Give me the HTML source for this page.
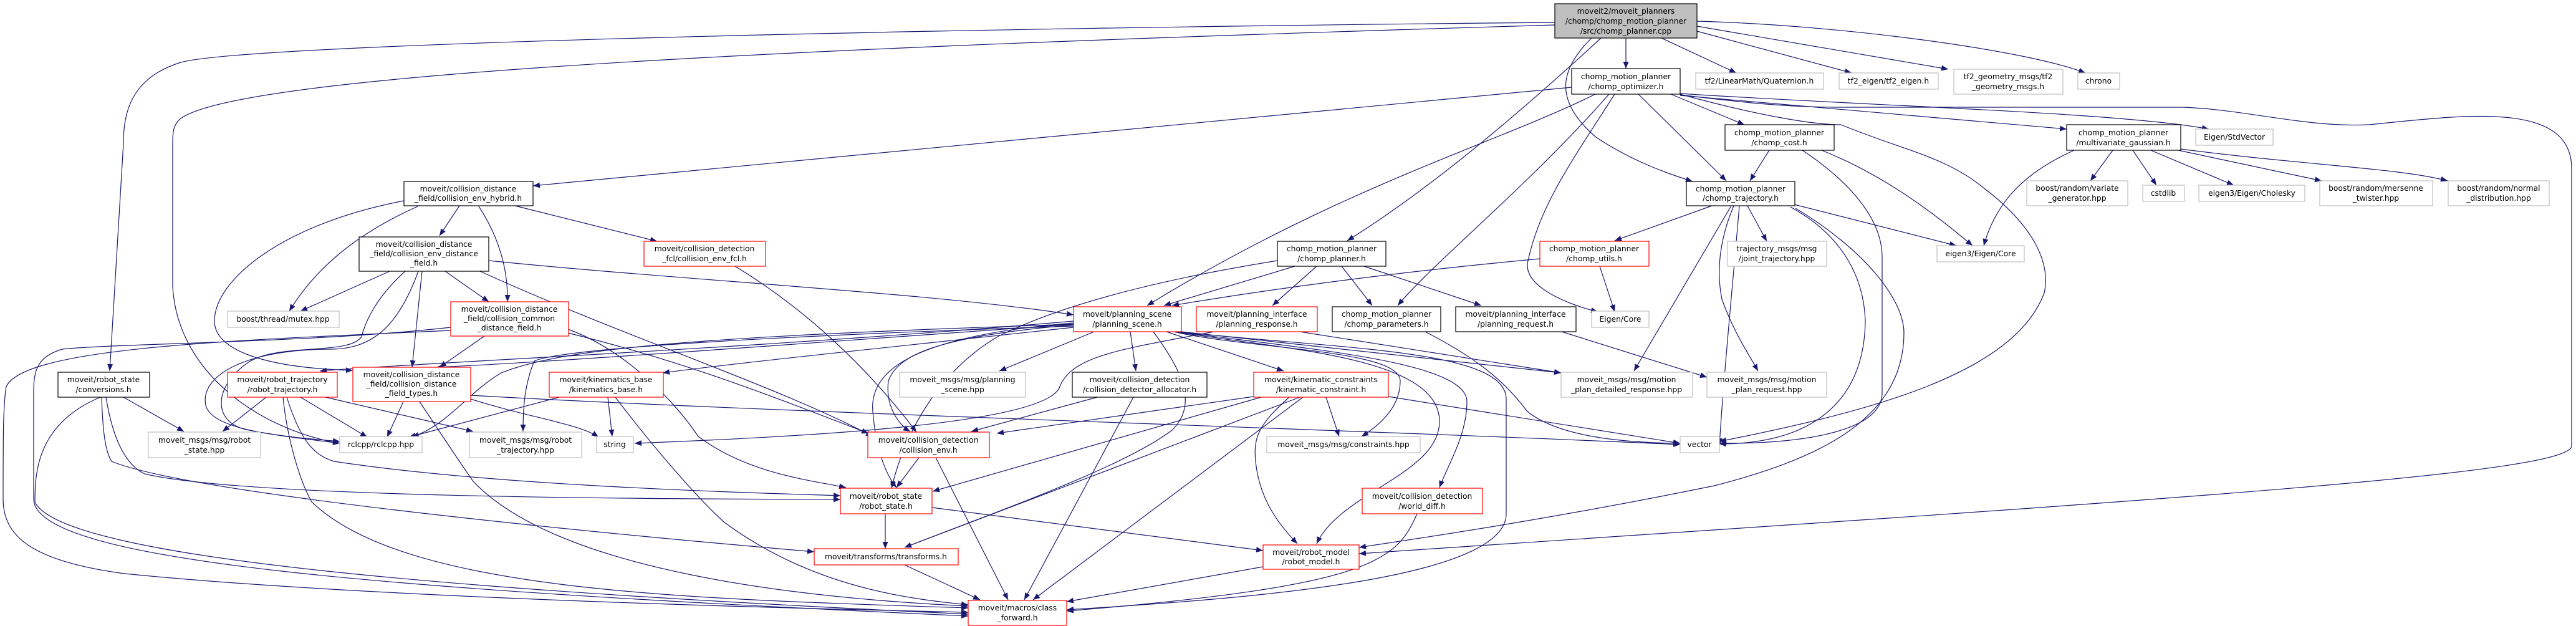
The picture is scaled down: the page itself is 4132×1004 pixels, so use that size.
<!DOCTYPE html>
<html><head><meta charset="utf-8"><style>
html,body{margin:0;padding:0;background:#fff;}
svg{display:block;}
text{font-family:"DejaVu Sans","Liberation Sans",sans-serif;font-size:12.3px;fill:#000;}
.e{fill:none;stroke:#191970;stroke-width:1.2;marker-end:url(#a);}
</style></head><body>
<svg width="4132" height="1004" viewBox="0 0 4132 1004" xmlns="http://www.w3.org/2000/svg">
<defs><marker id="a" markerUnits="userSpaceOnUse" markerWidth="12" markerHeight="10" refX="11" refY="4.5" orient="auto"><path d="M0,0 L11,4.5 L0,9 z" fill="#191970"/></marker></defs>
<g id="edges">
<!-- from cpp -->
<path class="e" d="M2494,36 C1500,45 400,70 290,100 C210,125 198,180 198,230 L176,595"/>
<path class="e" d="M2494,40 C1500,70 400,110 290,190 C277,200 277,215 277,230 L277,460 C285,600 420,690 545,711"/>
<path class="e" d="M2608,61 L2608,110"/>
<path class="e" d="M2568,61 C2450,170 2300,300 2161,386"/>
<path class="e" d="M2553,61 C2503,110 2490,160 2560,220 C2620,260 2680,280 2715,291"/>
<path class="e" d="M2665,61 L2785,117"/>
<path class="e" d="M2722,50 L2970,117"/>
<path class="e" d="M2722,42 L3125,111"/>
<path class="e" d="M2722,34 C2950,40 3250,80 3345,117"/>
<path class="e" d="M2695,152 C2800,165 2870,172 2950,172 L3500,172 C3600,175 3700,205 3800,200 C3950,185 4125,160 4125,270 L4125,715 C4125,760 3500,800 2180,888"/>
<!-- optimizer -->
<path class="e" d="M2521,140 L855,298"/>
<path class="e" d="M2559,151 C2400,230 2150,300 1840,490"/>
<path class="e" d="M2581,151 C2450,300 2300,420 2242,490"/>
<path class="e" d="M2590,151 C2520,260 2470,330 2451,418 C2440,460 2520,490 2563,500"/>
<path class="e" d="M2628,151 L2769,290"/>
<path class="e" d="M2680,151 L2798,200"/>
<path class="e" d="M2695,153 L3315,207"/>
<path class="e" d="M2695,150 C3000,170 3400,180 3543,207"/>
<path class="e" d="M2695,151 C2800,180 2900,200 2953,200 C3050,240 3120,251 3180,300 C3260,360 3290,420 3279,470 C3230,600 3000,660 2758,708"/>
<!-- cost -->
<path class="e" d="M2891,241 C2980,300 3019,360 3019,412 L3019,630 C3019,690 2900,712 2758,711"/>
<path class="e" d="M2922,241 C3020,280 3100,340 3164,394"/>
<path class="e" d="M2838,241 L2807,290"/>
<!-- chomp_trajectory -->
<path class="e" d="M2878,328 L3138,394"/>
<path class="e" d="M2803,330 L2834,387"/>
<path class="e" d="M2781,330 C2760,380 2752,430 2762,480 C2780,530 2800,560 2820,595"/>
<path class="e" d="M2746,330 L2590,386"/>
<path class="e" d="M2777,330 L2621,595"/>
<path class="e" d="M2872,332 C2960,380 2990,450 2992,515 C2990,650 2900,712 2758,712"/>
<path class="e" d="M2880,334 C2990,400 3054,480 3054,534 C3054,680 2900,740 2750,779 C2500,830 2300,860 2180,878"/>
<path class="e" d="M2790,330 C2780,450 2765,600 2758,714"/>
<!-- multivariate -->
<path class="e" d="M3327,241 C3240,280 3200,330 3182,394"/>
<path class="e" d="M3389,241 L3353,290"/>
<path class="e" d="M3421,241 L3459,297"/>
<path class="e" d="M3450,241 L3583,297"/>
<path class="e" d="M3494,241 L3724,290"/>
<path class="e" d="M3498,239 C3700,265 3850,270 3926,290"/>
<!-- chomp_planner -->
<path class="e" d="M2077,427 L1867,490"/>
<path class="e" d="M2112,427 L2041,490"/>
<path class="e" d="M2152,427 L2201,490"/>
<path class="e" d="M2188,427 L2376,490"/>
<path class="e" d="M2049,418 C1850,450 1700,490 1600,540 C1500,600 1450,700 1430,783"/>
<path class="e" d="M2470,415 C2200,440 2000,470 1880,490"/>
<path class="e" d="M2566,427 L2590,500"/>
<path class="e" d="M2505,532 L2738,605"/>
<path class="e" d="M2286,532 C2380,580 2420,620 2450,660 C2500,700 2600,710 2695,711"/>
<path class="e" d="M2085,532 L2504,598"/>
<path class="e" d="M1947,532 C1800,560 1720,570 1700,620 C1680,680 1300,700 1018,711"/>
<!-- fcl -->
<path class="e" d="M1179,427 C1300,500 1400,600 1470,693"/>
<!-- hybrid -->
<path class="e" d="M737,330 L705,378"/>
<path class="e" d="M826,330 L1054,387"/>
<path class="e" d="M670,331 C560,380 500,440 464,499"/>
<path class="e" d="M768,331 C800,380 815,430 814,484"/>
<path class="e" d="M648,322 C450,360 344,450 344,515 C344,560 420,590 566,594"/>
<!-- distance field -->
<path class="e" d="M625,435 L482,499"/>
<path class="e" d="M714,435 L784,484"/>
<path class="e" d="M677,435 L661,589"/>
<path class="e" d="M784,418 C1100,450 1500,470 1722,505"/>
<path class="e" d="M650,435 C600,480 585,520 580,540 C560,570 450,550 400,580 C340,620 340,680 400,690 C450,700 500,705 545,711"/>
<path class="e" d="M671,435 C640,520 600,560 530,560 C400,560 320,600 330,650 C340,690 450,700 545,708"/>
<path class="e" d="M770,435 C1000,540 1250,620 1400,700"/>
<!-- common -->
<path class="e" d="M777,539 L705,589"/>
<path class="e" d="M723,525 C500,550 200,550 100,560 C50,575 54,605 54,650 L54,800 C54,900 600,945 1553,988"/>
<path class="e" d="M911,528 C1000,560 1080,640 1120,700 C1200,760 1300,770 1357,782"/>
<path class="e" d="M911,534 C1100,580 1250,640 1393,695"/>
<path class="e" d="M723,530 C400,545 40,555 10,620 C5,650 5,700 5,800 C5,860 50,900 200,920 C500,950 1000,970 1553,982"/>
<!-- conversions -->
<path class="e" d="M198,637 L295,692"/>
<path class="e" d="M170,637 C180,700 200,745 232,760 C400,800 1100,800 1348,801"/>
<path class="e" d="M163,637 C165,700 170,725 179,740 C300,790 900,850 1306,885"/>
<path class="e" d="M161,637 C58,680 56,760 56,805 C100,900 800,950 1553,985"/>
<!-- robot_trajectory -->
<path class="e" d="M427,637 L357,692"/>
<path class="e" d="M482,637 L589,701"/>
<path class="e" d="M522,637 L759,692"/>
<path class="e" d="M460,637 C480,700 500,730 536,740 C800,780 1200,790 1348,795"/>
<path class="e" d="M454,637 C460,700 480,770 500,805 C650,950 1100,960 1553,975"/>
<!-- types -->
<path class="e" d="M647,644 L621,701"/>
<path class="e" d="M755,640 C850,670 930,680 960,701"/>
<path class="e" d="M755,634 C1200,660 2200,690 2695,713"/>
<path class="e" d="M673,644 C710,700 740,745 759,772 C900,920 1300,960 1553,972"/>
<!-- kinematics base -->
<path class="e" d="M897,637 L656,701"/>
<path class="e" d="M975,637 L982,700"/>
<path class="e" d="M987,637 C1050,720 1120,800 1161,837 C1300,940 1450,960 1553,970"/>
<!-- planning scene -->
<path class="e" d="M1722,515 C1200,560 700,580 513,595"/>
<path class="e" d="M1722,520 C1300,550 900,580 700,589"/>
<path class="e" d="M1722,525 C1400,560 1200,580 1063,598"/>
<path class="e" d="M1722,520 C1100,540 900,560 804,598 C750,630 720,680 661,701"/>
<path class="e" d="M1722,523 C1200,540 900,560 857,579 C840,620 839,660 839,692"/>
<path class="e" d="M1755,532 L1603,595"/>
<path class="e" d="M1813,532 L1822,595"/>
<path class="e" d="M1871,532 L2059,595"/>
<path class="e" d="M1722,521 C1500,540 1440,570 1425,611 C1420,650 1440,680 1460,692"/>
<path class="e" d="M1722,518 C1450,540 1395,600 1400,660 C1405,720 1420,760 1438,782"/>
<path class="e" d="M1883,532 C2000,560 2246,560 2246,611 C2246,660 2200,690 2184,700"/>
<path class="e" d="M1885,532 C2050,560 2309,570 2309,676 C2309,760 2150,790 2112,872"/>
<path class="e" d="M1887,532 C2100,560 2353,580 2353,644 C2353,700 2320,750 2309,782"/>
<path class="e" d="M1890,532 C2150,560 2416,560 2416,640 L2416,824 C2416,930 2000,960 1711,978"/>
<path class="e" d="M1895,532 L2504,598"/>
<path class="e" d="M1850,532 C1900,600 1920,650 1880,690 C1800,750 1600,820 1451,878"/>
<!-- allocator -->
<path class="e" d="M1760,637 L1558,692"/>
<path class="e" d="M1818,637 L1643,962"/>
<!-- kinematic constraint -->
<path class="e" d="M2011,636 L1599,695"/>
<path class="e" d="M2023,637 L1496,788"/>
<path class="e" d="M2085,637 L1451,878"/>
<path class="e" d="M2090,637 L1657,962"/>
<path class="e" d="M2068,637 C2020,680 2010,700 2014,740 C2020,800 2050,840 2081,872"/>
<path class="e" d="M2127,637 L2148,700"/>
<path class="e" d="M2227,636 L2695,711"/>
<!-- collision env -->
<path class="e" d="M1474,734 L1438,782"/>
<path class="e" d="M1501,734 L1617,962"/>
<!-- robot state -->
<path class="e" d="M1420,824 L1420,880"/>
<path class="e" d="M1495,814 L2026,883"/>
<path class="e" d="M1451,906 L1572,962"/>
<path class="e" d="M2026,909 L1711,965"/>
<path class="e" d="M2273,824 C2240,900 2200,940 1711,980"/>
</g>
<g id="nodes">
<rect x="2494" y="6" width="228" height="55" fill="#bfbfbf" stroke="#000" stroke-width="1.2"/>
<text x="2608" y="22" text-anchor="middle">moveit2/moveit_planners</text><text x="2608" y="38" text-anchor="middle">/chomp/chomp_motion_planner</text><text x="2608" y="54" text-anchor="middle">/src/chomp_planner.cpp</text>

<rect x="2521" y="110" width="174" height="41" fill="#fff" stroke="#000" stroke-width="1.2"/>
<text x="2608" y="127" text-anchor="middle">chomp_motion_planner</text><text x="2608" y="143" text-anchor="middle">/chomp_optimizer.h</text>

<rect x="648" y="291" width="207" height="39" fill="#fff" stroke="#000" stroke-width="1.2"/>
<text x="751" y="307" text-anchor="middle">moveit/collision_distance</text><text x="751" y="322" text-anchor="middle">_field/collision_env_hybrid.h</text>

<rect x="576" y="380" width="208" height="55" fill="#fff" stroke="#000" stroke-width="1.2"/>
<text x="680" y="396" text-anchor="middle">moveit/collision_distance</text><text x="680" y="411" text-anchor="middle">_field/collision_env_distance</text><text x="680" y="426" text-anchor="middle">_field.h</text>

<rect x="1033" y="387" width="195" height="40" fill="#fff" stroke="#f00" stroke-width="1.2"/>
<text x="1130" y="403" text-anchor="middle">moveit/collision_detection</text><text x="1130" y="419" text-anchor="middle">_fcl/collision_env_fcl.h</text>

<rect x="365" y="499" width="179" height="26" fill="#fff" stroke="#bfbfbf" stroke-width="1.2"/>
<text x="454" y="516" text-anchor="middle">boost/thread/mutex.hpp</text>

<rect x="723" y="484" width="189" height="55" fill="#fff" stroke="#f00" stroke-width="1.2"/>
<text x="817" y="500" text-anchor="middle">moveit/collision_distance</text><text x="817" y="515" text-anchor="middle">_field/collision_common</text><text x="817" y="530" text-anchor="middle">_distance_field.h</text>

<rect x="93" y="597" width="147" height="40" fill="#fff" stroke="#000" stroke-width="1.2"/>
<text x="166" y="613" text-anchor="middle">moveit/robot_state</text><text x="166" y="629" text-anchor="middle">/conversions.h</text>

<rect x="365" y="597" width="176" height="40" fill="#fff" stroke="#f00" stroke-width="1.2"/>
<text x="453" y="613" text-anchor="middle">moveit/robot_trajectory</text><text x="453" y="629" text-anchor="middle">/robot_trajectory.h</text>

<rect x="566" y="589" width="189" height="55" fill="#fff" stroke="#f00" stroke-width="1.2"/>
<text x="660" y="605" text-anchor="middle">moveit/collision_distance</text><text x="660" y="620" text-anchor="middle">_field/collision_distance</text><text x="660" y="635" text-anchor="middle">_field_types.h</text>

<rect x="881" y="597" width="183" height="40" fill="#fff" stroke="#f00" stroke-width="1.2"/>
<text x="972" y="613" text-anchor="middle">moveit/kinematics_base</text><text x="972" y="629" text-anchor="middle">/kinematics_base.h</text>

<rect x="238" y="693" width="180" height="41" fill="#fff" stroke="#bfbfbf" stroke-width="1.2"/>
<text x="328" y="710" text-anchor="middle">moveit_msgs/msg/robot</text><text x="328" y="726" text-anchor="middle">_state.hpp</text>

<rect x="545" y="700" width="132" height="26" fill="#fff" stroke="#bfbfbf" stroke-width="1.2"/>
<text x="611" y="717" text-anchor="middle">rclcpp/rclcpp.hpp</text>

<rect x="753" y="693" width="180" height="41" fill="#fff" stroke="#bfbfbf" stroke-width="1.2"/>
<text x="843" y="710" text-anchor="middle">moveit_msgs/msg/robot</text><text x="843" y="726" text-anchor="middle">_trajectory.hpp</text>

<rect x="957" y="700" width="59" height="26" fill="#fff" stroke="#bfbfbf" stroke-width="1.2"/>
<text x="986" y="717" text-anchor="middle">string</text>

<rect x="1348" y="783" width="147" height="41" fill="#fff" stroke="#f00" stroke-width="1.2"/>
<text x="1421" y="800" text-anchor="middle">moveit/robot_state</text><text x="1421" y="816" text-anchor="middle">/robot_state.h</text>

<rect x="1306" y="880" width="231" height="26" fill="#fff" stroke="#f00" stroke-width="1.2"/>
<text x="1421" y="897" text-anchor="middle">moveit/transforms/transforms.h</text>

<rect x="2049" y="387" width="174" height="40" fill="#fff" stroke="#000" stroke-width="1.2"/>
<text x="2136" y="403" text-anchor="middle">chomp_motion_planner</text><text x="2136" y="419" text-anchor="middle">/chomp_planner.h</text>

<rect x="2470" y="387" width="175" height="40" fill="#fff" stroke="#f00" stroke-width="1.2"/>
<text x="2557" y="403" text-anchor="middle">chomp_motion_planner</text><text x="2557" y="419" text-anchor="middle">/chomp_utils.h</text>

<rect x="1722" y="492" width="173" height="40" fill="#fff" stroke="#f00" stroke-width="1.2"/>
<text x="1808" y="508" text-anchor="middle">moveit/planning_scene</text><text x="1808" y="524" text-anchor="middle">/planning_scene.h</text>

<rect x="1919" y="492" width="194" height="40" fill="#fff" stroke="#f00" stroke-width="1.2"/>
<text x="2016" y="508" text-anchor="middle">moveit/planning_interface</text><text x="2016" y="524" text-anchor="middle">/planning_response.h</text>

<rect x="2137" y="492" width="174" height="40" fill="#fff" stroke="#000" stroke-width="1.2"/>
<text x="2224" y="508" text-anchor="middle">chomp_motion_planner</text><text x="2224" y="524" text-anchor="middle">/chomp_parameters.h</text>

<rect x="2335" y="492" width="193" height="40" fill="#fff" stroke="#000" stroke-width="1.2"/>
<text x="2431" y="508" text-anchor="middle">moveit/planning_interface</text><text x="2431" y="524" text-anchor="middle">/planning_request.h</text>

<rect x="2553" y="499" width="92" height="26" fill="#fff" stroke="#bfbfbf" stroke-width="1.2"/>
<text x="2599" y="516" text-anchor="middle">Eigen/Core</text>

<rect x="1443" y="597" width="202" height="40" fill="#fff" stroke="#bfbfbf" stroke-width="1.2"/>
<text x="1544" y="613" text-anchor="middle">moveit_msgs/msg/planning</text><text x="1544" y="629" text-anchor="middle">_scene.hpp</text>

<rect x="1720" y="597" width="216" height="40" fill="#fff" stroke="#000" stroke-width="1.2"/>
<text x="1828" y="613" text-anchor="middle">moveit/collision_detection</text><text x="1828" y="629" text-anchor="middle">/collision_detector_allocator.h</text>

<rect x="2011" y="597" width="216" height="40" fill="#fff" stroke="#f00" stroke-width="1.2"/>
<text x="2119" y="613" text-anchor="middle">moveit/kinematic_constraints</text><text x="2119" y="629" text-anchor="middle">/kinematic_constraint.h</text>

<rect x="2504" y="597" width="211" height="40" fill="#fff" stroke="#bfbfbf" stroke-width="1.2"/>
<text x="2609" y="613" text-anchor="middle">moveit_msgs/msg/motion</text><text x="2609" y="629" text-anchor="middle">_plan_detailed_response.hpp</text>

<rect x="1392" y="693" width="195" height="41" fill="#fff" stroke="#f00" stroke-width="1.2"/>
<text x="1489" y="710" text-anchor="middle">moveit/collision_detection</text><text x="1489" y="726" text-anchor="middle">/collision_env.h</text>

<rect x="2032" y="700" width="246" height="26" fill="#fff" stroke="#bfbfbf" stroke-width="1.2"/>
<text x="2155" y="717" text-anchor="middle">moveit_msgs/msg/constraints.hpp</text>

<rect x="2695" y="700" width="63" height="26" fill="#fff" stroke="#bfbfbf" stroke-width="1.2"/>
<text x="2726" y="717" text-anchor="middle">vector</text>

<rect x="2185" y="783" width="193" height="41" fill="#fff" stroke="#f00" stroke-width="1.2"/>
<text x="2281" y="800" text-anchor="middle">moveit/collision_detection</text><text x="2281" y="816" text-anchor="middle">/world_diff.h</text>

<rect x="2026" y="874" width="154" height="39" fill="#fff" stroke="#f00" stroke-width="1.2"/>
<text x="2103" y="890" text-anchor="middle">moveit/robot_model</text><text x="2103" y="905" text-anchor="middle">/robot_model.h</text>

<rect x="1553" y="963" width="158" height="40" fill="#fff" stroke="#f00" stroke-width="1.2"/>
<text x="1632" y="979" text-anchor="middle">moveit/macros/class</text><text x="1632" y="995" text-anchor="middle">_forward.h</text>

<rect x="2720" y="117" width="205" height="26" fill="#fff" stroke="#bfbfbf" stroke-width="1.2"/>
<text x="2822" y="134" text-anchor="middle">tf2/LinearMath/Quaternion.h</text>

<rect x="2950" y="117" width="159" height="26" fill="#fff" stroke="#bfbfbf" stroke-width="1.2"/>
<text x="3029" y="134" text-anchor="middle">tf2_eigen/tf2_eigen.h</text>

<rect x="3134" y="111" width="175" height="40" fill="#fff" stroke="#bfbfbf" stroke-width="1.2"/>
<text x="3221" y="127" text-anchor="middle">tf2_geometry_msgs/tf2</text><text x="3221" y="143" text-anchor="middle">_geometry_msgs.h</text>

<rect x="3333" y="117" width="67" height="26" fill="#fff" stroke="#bfbfbf" stroke-width="1.2"/>
<text x="3366" y="134" text-anchor="middle">chrono</text>

<rect x="2767" y="200" width="175" height="41" fill="#fff" stroke="#000" stroke-width="1.2"/>
<text x="2854" y="217" text-anchor="middle">chomp_motion_planner</text><text x="2854" y="233" text-anchor="middle">/chomp_cost.h</text>

<rect x="3315" y="200" width="183" height="41" fill="#fff" stroke="#000" stroke-width="1.2"/>
<text x="3406" y="217" text-anchor="middle">chomp_motion_planner</text><text x="3406" y="233" text-anchor="middle">/multivariate_gaussian.h</text>

<rect x="3522" y="207" width="124" height="26" fill="#fff" stroke="#bfbfbf" stroke-width="1.2"/>
<text x="3584" y="224" text-anchor="middle">Eigen/StdVector</text>

<rect x="2705" y="291" width="174" height="39" fill="#fff" stroke="#000" stroke-width="1.2"/>
<text x="2792" y="307" text-anchor="middle">chomp_motion_planner</text><text x="2792" y="322" text-anchor="middle">/chomp_trajectory.h</text>

<rect x="2771" y="387" width="159" height="40" fill="#fff" stroke="#bfbfbf" stroke-width="1.2"/>
<text x="2850" y="403" text-anchor="middle">trajectory_msgs/msg</text><text x="2850" y="419" text-anchor="middle">/joint_trajectory.hpp</text>

<rect x="3107" y="394" width="140" height="26" fill="#fff" stroke="#bfbfbf" stroke-width="1.2"/>
<text x="3177" y="411" text-anchor="middle">eigen3/Eigen/Core</text>

<rect x="3251" y="290" width="162" height="40" fill="#fff" stroke="#bfbfbf" stroke-width="1.2"/>
<text x="3332" y="306" text-anchor="middle">boost/random/variate</text><text x="3332" y="322" text-anchor="middle">_generator.hpp</text>

<rect x="3437" y="297" width="67" height="26" fill="#fff" stroke="#bfbfbf" stroke-width="1.2"/>
<text x="3470" y="314" text-anchor="middle">cstdlib</text>

<rect x="3527" y="297" width="170" height="26" fill="#fff" stroke="#bfbfbf" stroke-width="1.2"/>
<text x="3612" y="314" text-anchor="middle">eigen3/Eigen/Cholesky</text>

<rect x="3721" y="290" width="181" height="40" fill="#fff" stroke="#bfbfbf" stroke-width="1.2"/>
<text x="3811" y="306" text-anchor="middle">boost/random/mersenne</text><text x="3811" y="322" text-anchor="middle">_twister.hpp</text>

<rect x="3927" y="290" width="162" height="40" fill="#fff" stroke="#bfbfbf" stroke-width="1.2"/>
<text x="4008" y="306" text-anchor="middle">boost/random/normal</text><text x="4008" y="322" text-anchor="middle">_distribution.hpp</text>

<rect x="2738" y="597" width="192" height="40" fill="#fff" stroke="#bfbfbf" stroke-width="1.2"/>
<text x="2834" y="613" text-anchor="middle">moveit_msgs/msg/motion</text><text x="2834" y="629" text-anchor="middle">_plan_request.hpp</text>
</g>
</svg>
</body></html>
